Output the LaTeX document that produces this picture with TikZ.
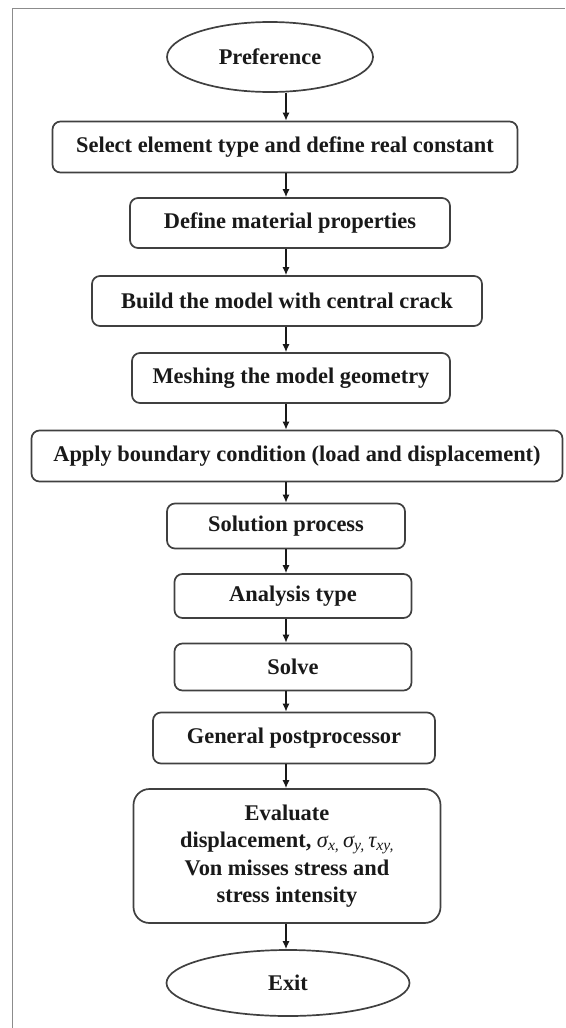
\documentclass[tikz,border=0pt]{standalone}
\usepackage{fontspec}
\setmainfont{Liberation Serif}
\usetikzlibrary{shapes.geometric,arrows.meta}
\begin{document}
\begin{tikzpicture}[x=1pt,y=-1pt,
  txt/.style={font=\fontsize{22.4}{27.5}\selectfont\bfseries, text=black!90},
  box/.style={txt, draw=black!75, line width=1.7pt, rounded corners=8pt, inner sep=0pt, align=center},
  oval/.style={txt, ellipse, draw=black!75, line width=1.7pt, inner sep=0pt},
  arr/.style={draw=black!90, line width=1.3pt, -{Latex[length=8pt,width=7pt]}},
  frame/.style={draw=black!45, line width=1pt}]
\useasboundingbox (0,0) rectangle (565,1028);
\coordinate (fa) at (12,1028);
\coordinate (fb) at (12,8);
\coordinate (fc) at (565,8);
\draw[frame] (fa) -- (fb) -- (fc);
\coordinate (ax) at (286,0);
\node[oval, minimum width=206pt, minimum height=70pt] (p) at (270,57) {Preference};
\node[box, minimum width=465pt, minimum height=51pt] (b1) at (285,147) {Select element type and define real constant};
\node[box, minimum width=320pt, minimum height=50pt] (b2) at (290,223) {Define material properties};
\node[box, minimum width=390pt, minimum height=50pt] (b3) at (287,301) {Build the model with central crack};
\node[box, minimum width=318pt, minimum height=50pt] (b4) at (291,378) {Meshing the model geometry};
\node[box, minimum width=531pt, minimum height=51pt] (b5) at (297,456) {Apply boundary condition (load and displacement)};
\node[box, minimum width=238pt, minimum height=45pt] (b6) at (286,526) {Solution process};
\node[box, minimum width=237pt, minimum height=44pt] (b7) at (293,596) {Analysis type};
\node[box, minimum width=237pt, minimum height=47pt] (b8) at (293,667) {Solve};
\node[box, minimum width=282pt, minimum height=51pt] (b9) at (294,738) {General postprocessor};
\node[box, minimum width=307pt, minimum height=134pt, rounded corners=16pt] (b10) at (287,856) {Evaluate\\displacement, {\mdseries\itshape σ\textsubscript{x,}\,σ\textsubscript{y,}\,τ\textsubscript{xy,}}\\Von misses stress and\\stress intensity};
\node[oval, minimum width=243pt, minimum height=66pt] (e) at (288,983) {Exit};
\foreach \a/\b in {p/b1,b1/b2,b2/b3,b3/b4,b4/b5,b5/b6,b6/b7,b7/b8,b8/b9,b9/b10,b10/e}
  \draw[arr] (\a.south -| ax) -- (\b.north -| ax);
\end{tikzpicture}
\end{document}
